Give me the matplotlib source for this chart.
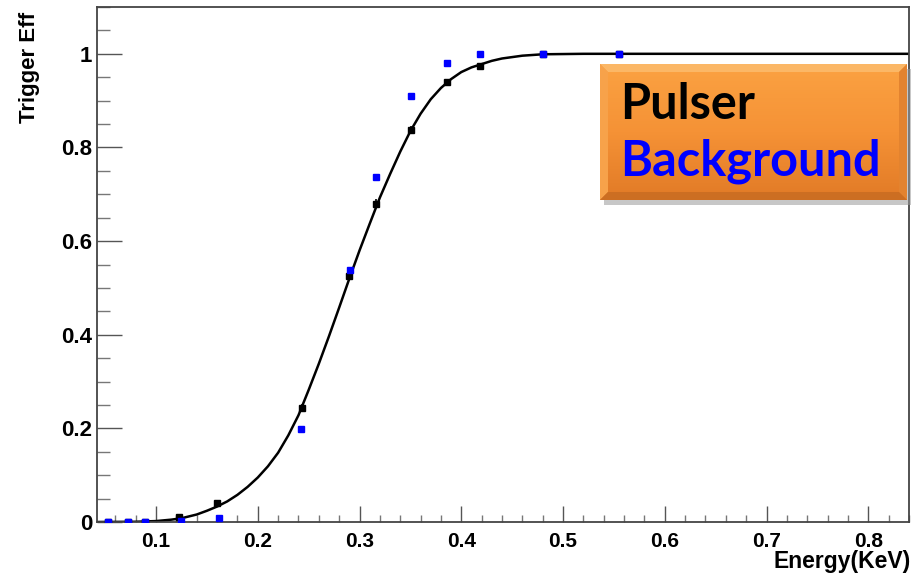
import numpy as np
import matplotlib
matplotlib.use("Agg")
import matplotlib.pyplot as plt
from matplotlib.patches import Polygon, Rectangle
from matplotlib.ticker import MultipleLocator

# pulser (black) points with small errors
pulser_x = [0.053, 0.072, 0.089, 0.123, 0.160, 0.243, 0.290, 0.316, 0.351, 0.386, 0.418, 0.480, 0.555]
pulser_y = [0.0, 0.0, 0.0, 0.010, 0.040, 0.244, 0.526, 0.680, 0.838, 0.939, 0.975, 1.0, 1.0]
pulser_err = [0.002, 0.002, 0.002, 0.004, 0.006, 0.009, 0.009, 0.009, 0.008, 0.006, 0.005, 0.002, 0.002]

# background (blue) points
bkg_x = [0.053, 0.072, 0.089, 0.125, 0.162, 0.242, 0.291, 0.316, 0.351, 0.386, 0.418, 0.480, 0.555]
bkg_y = [0.0, 0.0, 0.0, 0.002, 0.008, 0.198, 0.539, 0.736, 0.909, 0.980, 0.999, 1.0, 1.0]

# fitted curve
fit_x = [0.042, 0.08, 0.10, 0.115, 0.125, 0.14, 0.15, 0.16, 0.17, 0.18, 0.19, 0.20, 0.21, 0.22,
         0.23, 0.24, 0.25, 0.26, 0.27, 0.28, 0.29, 0.30, 0.31, 0.32, 0.33, 0.34, 0.35, 0.36,
         0.37, 0.38, 0.39, 0.40, 0.41, 0.42, 0.43, 0.44, 0.46, 0.48, 0.52, 0.84]
fit_y = [0.0, 0.0005, 0.002, 0.005, 0.008, 0.016, 0.024, 0.033, 0.044, 0.058, 0.075, 0.095, 0.119, 0.148,
         0.185, 0.228, 0.282, 0.338, 0.397, 0.458, 0.52, 0.58, 0.637, 0.693, 0.743, 0.791, 0.835, 0.872,
         0.903, 0.927, 0.946, 0.961, 0.971, 0.978, 0.985, 0.99, 0.996, 0.999, 1.0, 1.0]

W, H = 918, 573
fig = plt.figure(figsize=(W / 100, H / 100), dpi=100)
ax = fig.add_axes([97 / W, (H - 522) / H, (909 - 97) / W, (522 - 7) / H])

ax.plot(fit_x, fit_y, color="black", lw=1.8, zorder=2)
ax.errorbar(pulser_x, pulser_y, yerr=pulser_err, fmt="s", color="black",
            ms=4.5, elinewidth=1.2, capsize=0, zorder=3)
ax.plot(bkg_x, bkg_y, "s", color="#0000ff", ms=4.8, ls="none", zorder=4)

ax.set_xlim(0.042, 0.84)
ax.set_ylim(0, 1.1)
ax.xaxis.set_minor_locator(MultipleLocator(0.02))
ax.yaxis.set_minor_locator(MultipleLocator(0.05))
ax.set_xticks([0.1, 0.2, 0.3, 0.4, 0.5, 0.6, 0.7, 0.8])
ax.set_xticklabels(["0.1", "0.2", "0.3", "0.4", "0.5", "0.6", "0.7", "0.8"])
ax.set_yticks([0, 0.2, 0.4, 0.6, 0.8, 1.0])
ax.set_yticklabels(["0", "0.2", "0.4", "0.6", "0.8", "1"])

ax.tick_params(axis="x", which="major", direction="in", length=11.5, width=1, color="#555555",
               pad=7, labelsize=15)
ax.tick_params(axis="x", which="minor", direction="in", length=5, width=1, color="#777777")
ax.tick_params(axis="y", which="major", direction="in", length=18, width=1, color="#555555",
               pad=3.5, labelsize=16)
ax.tick_params(axis="y", which="minor", direction="in", length=9, width=1, color="#777777")
for lab in ax.get_xticklabels() + ax.get_yticklabels():
    lab.set_fontweight("bold")
    lab.set_family("Liberation Sans")
for s in ax.spines.values():
    s.set_color("#444444")
    s.set_linewidth(1.3)

fig.text(29 / W, 1 - 12 / H, "Trigger Eff", rotation=90, ha="center", va="top",
         fontsize=16, fontweight="bold", family="Liberation Sans")
fig.text(911 / W, 1 - 550 / H, "Energy(KeV)", ha="right", va="top",
         fontsize=16.5, fontweight="bold", family="Liberation Sans")

# orange label box with bevel and shadow
bx0, by0, bx1, by1 = 600, 64, 907, 200
shadow = Rectangle(((bx0 + 4) / W, 1 - (by1 + 5) / H), (bx1 - bx0) / W, (by1 - by0) / H,
                   transform=fig.transFigure, color="#9a9a9a", alpha=0.55, lw=0, zorder=5)
fig.patches.append(shadow)
bax = fig.add_axes([bx0 / W, 1 - by1 / H, (bx1 - bx0) / W, (by1 - by0) / H], zorder=6)
grad = np.linspace(0, 1, 256).reshape(-1, 1)
cmap = matplotlib.colors.LinearSegmentedColormap.from_list("org", ["#fba242", "#f59236", "#e17a26"])
bax.imshow(grad, aspect="auto", cmap=cmap, extent=[0, 1, 0, 1], origin="upper")
bw = 8 / (bx1 - bx0)
bh = 8 / (by1 - by0)
bax.add_patch(Polygon([[0, 1], [1, 1], [1 - bw, 1 - bh], [bw, 1 - bh]], color="#fbb766", lw=0))
bax.add_patch(Polygon([[0, 0], [bw, bh], [bw, 1 - bh], [0, 1]], color="#f7a24a", lw=0))
bax.add_patch(Polygon([[1, 0], [1, 1], [1 - bw, 1 - bh], [1 - bw, bh]], color="#e3832f", lw=0))
bax.add_patch(Polygon([[0, 0], [1, 0], [1 - bw, bh], [bw, bh]], color="#cc6e22", lw=0))
bax.set_xlim(0, 1)
bax.set_ylim(0, 1)
bax.axis("off")
bax.text(20 / (bx1 - bx0), 1 - 55 / (by1 - by0), "Pulser", color="black", fontsize=35,
         fontweight="bold", family="Lato", va="baseline", ha="left")
bax.text(20 / (bx1 - bx0), 1 - 112 / (by1 - by0), "Background", color="#0000ff", fontsize=35,
         fontweight="bold", family="Lato", va="baseline", ha="left")

fig.savefig("out.png", dpi=100)
